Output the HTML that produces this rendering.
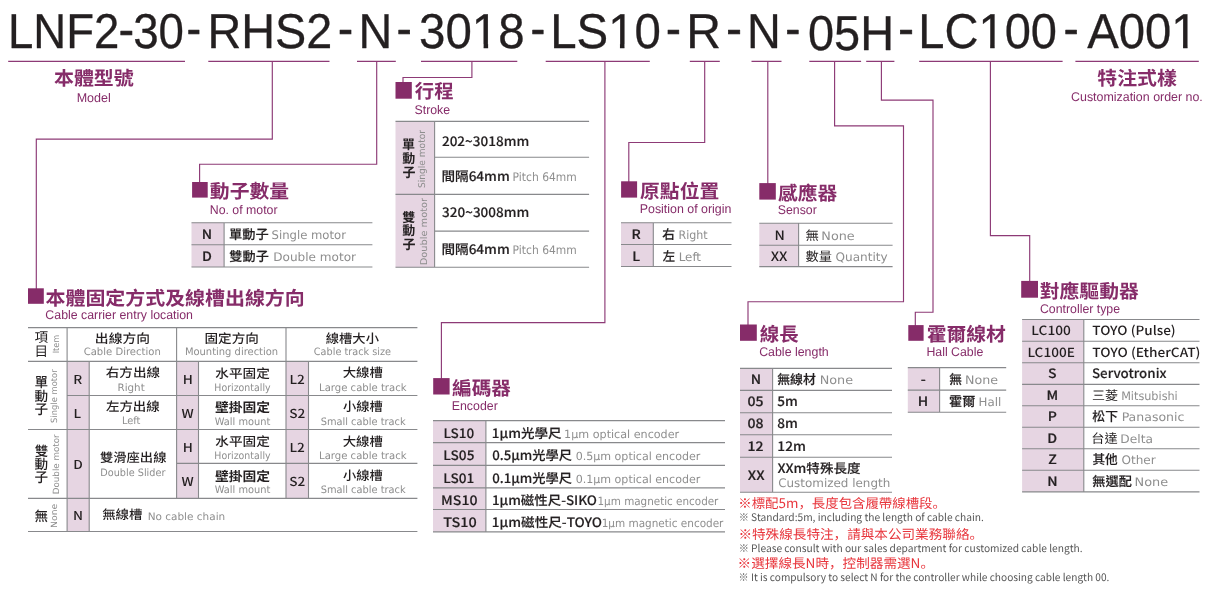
<!DOCTYPE html>
<html lang="zh-Hant">
<head>
<meta charset="utf-8">
<title>LNF2-30 Ordering Code</title>
<style>
html,body{margin:0;padding:0;background:#fff;}
body{width:1212px;height:595px;overflow:hidden;}
svg{display:block;will-change:transform;}
text{white-space:pre;text-rendering:geometricPrecision;}
.tt{font-family:"Liberation Sans", sans-serif;font-size:49px;font-weight:400;fill:#231f20;stroke:#231f20;stroke-width:0.3;stroke-linejoin:round;}
.td{font-family:"Liberation Sans", sans-serif;font-size:49px;font-weight:400;fill:#231f20;stroke:#231f20;stroke-width:0.7;stroke-linejoin:round;}
.hd{font-family:"Noto Sans CJK TC", "Liberation Sans", sans-serif;font-size:19px;font-weight:700;fill:#862c69;}
.sb{font-family:"Liberation Sans", sans-serif;font-size:12.6px;font-weight:400;fill:#862c69;}
.cd{font-family:"Noto Sans CJK TC", "Liberation Sans", sans-serif;font-size:12.8px;font-weight:500;fill:#231f20;stroke:#231f20;stroke-width:0.2;stroke-linejoin:round;}
.cdl{font-family:"Noto Sans CJK TC", "Liberation Sans", sans-serif;font-size:12.8px;font-weight:500;fill:#231f20;}
.cd2{font-family:"Noto Sans CJK TC", "Liberation Sans", sans-serif;font-size:12.4px;font-weight:500;fill:#231f20;}
.cr{font-family:"Noto Sans CJK TC", "Liberation Sans", sans-serif;font-size:12.7px;font-weight:500;fill:#231f20;}
.crl{font-family:"Noto Sans CJK TC", "Liberation Sans", sans-serif;font-size:12.7px;font-weight:400;fill:#231f20;}
.zh{font-family:"Noto Sans CJK TC", "Liberation Sans", sans-serif;font-size:13px;font-weight:500;fill:#231f20;stroke:#231f20;stroke-width:0.15;stroke-linejoin:round;}
.zv{font-family:"Noto Sans CJK TC", "Liberation Sans", sans-serif;font-size:13px;font-weight:700;fill:#231f20;}
.zvm{font-family:"Noto Sans CJK TC", "Liberation Sans", sans-serif;font-size:13.6px;font-weight:500;fill:#231f20;}
.zvh{font-family:"Noto Sans CJK TC", "Liberation Sans", sans-serif;font-size:13.6px;font-weight:400;fill:#231f20;}
.z2{font-family:"Noto Sans CJK TC", "Liberation Sans", sans-serif;font-size:12.6px;font-weight:500;fill:#231f20;}
.z2b{font-family:"Noto Sans CJK TC", "Liberation Sans", sans-serif;font-size:13px;font-weight:700;fill:#231f20;}
.en{font-family:"DejaVu Sans", "Liberation Sans", sans-serif;font-size:11.8px;font-weight:400;fill:#8e8e8e;}
.en2{font-family:"DejaVu Sans", "Liberation Sans", sans-serif;font-size:11.2px;font-weight:400;fill:#8e8e8e;}
.e2{font-family:"DejaVu Sans", "Liberation Sans", sans-serif;font-size:10.2px;font-weight:400;fill:#8e8e8e;}
.rt{font-family:"DejaVu Sans", "Liberation Sans", sans-serif;font-size:9.4px;font-weight:400;fill:#8e8e8e;}
.rt2{font-family:"DejaVu Sans", "Liberation Sans", sans-serif;font-size:8.6px;font-weight:400;fill:#8e8e8e;}
.nr{font-family:"Noto Sans CJK SC", "Noto Sans CJK TC", "Liberation Sans", sans-serif;font-size:13.2px;font-weight:400;fill:#e8353c;}
.ng{font-family:"Noto Sans CJK SC", "Noto Sans CJK TC", "Liberation Sans", sans-serif;font-size:10.4px;font-weight:400;fill:#555555;}
.ul{stroke:#8d3a76;stroke-width:1.15;fill:none;}
.cn{stroke:#8d3a76;stroke-width:1.15;fill:none;stroke-linejoin:miter;}
.sq{fill:#862c69;}
.pk{fill:#e6d5e2;}
.gl{stroke:#88898c;stroke-width:1.1;fill:none;}
</style>
</head>
<body>
<svg width="1212" height="595" viewBox="0 0 1212 595">
<rect width="1212" height="595" fill="#ffffff"/>
<g class="pk">
<rect x="191.5" y="222.7" width="32.6" height="44.3"/>
<rect x="621" y="222.7" width="32.3" height="43.8"/>
<rect x="759.3" y="223.3" width="39.3" height="43.3"/>
<rect x="740" y="368.4" width="32.6" height="123.9"/>
<rect x="907.8" y="367.6" width="31.8" height="44.6"/>
<rect x="1022.1" y="319.5" width="61.7" height="172.4"/>
<rect x="433" y="420.6" width="52.9" height="111.3"/>
<rect x="395.5" y="121.4" width="39.1" height="145.8"/>
<rect x="67.1" y="361.4" width="22.1" height="170.1"/>
<rect x="176.6" y="361.4" width="21.9" height="137"/>
<rect x="286" y="361.4" width="22.5" height="137"/>
</g>
<g class="gl">
<path d="M191.5 222.7H372.4M191.5 244.7H372.4M191.5 267H372.4M224.1 222.7V267"/>
<path d="M621 222.7H731.5M621 244.5H731.5M621 266.5H731.5M653.3 222.7V266.5"/>
<path d="M759.3 223.3H892.6M759.3 245.3H892.6M759.3 266.6H892.6M798.6 223.3V266.6"/>
<path d="M740 368.4H892M740 390.4H892M740 412.7H892M740 434.7H892M740 457.2H892M740 492.3H892M772.6 368.4V492.3"/>
<path d="M907.8 367.6H1006.2M907.8 390.1H1006.2M907.8 412.2H1006.2M939.6 367.6V412.2"/>
<path d="M1022.1 319.5H1199.5M1022.1 341.2H1199.5M1022.1 362.8H1199.5M1022.1 384.4H1199.5M1022.1 405.8H1199.5M1022.1 427.3H1199.5M1022.1 448.8H1199.5M1022.1 470.3H1199.5M1022.1 491.9H1199.5M1083.8 319.5V491.9"/>
<path d="M433 420.6H725M433 442.6H725M433 465.4H725M433 487.9H725M433 509.5H725M433 531.9H725M485.9 420.6V531.9"/>
<path d="M395.5 121.4H589.1M434.6 157.2H589.1M395.5 194.4H589.1M434.6 231.1H589.1M395.5 267.2H589.1M434.6 121.4V267.2"/>
<path d="M28 327.6H417.4M28 361.4H417.4M67.1 395.5H417.4M28 429.5H417.4M176.6 463.4H417.4M28 498.4H417.4M28 531.5H417.4M67.1 327.6V531.5M89.2 361.4V531.5M176.6 327.6V498.4M198.5 361.4V498.4M286 327.6V498.4M308.5 361.4V498.4"/>
</g>
<g class="ul">
<path d="M8.2 61.3H185M208.3 61.3H329.5M357 61.3H395.8M421 61.3H517.3M545.7 61.3H649.8M689.8 61.3H719.8M751.5 61.3H781.5M809.3 61.3H861.1M866.2 61.3H894.4M919.2 61.3H1062.6M1075.4 61.3H1198.8"/>
</g>
<g class="cn">
<polyline points="272.3,61.3 272.3,139.1 36.3,139.1 36.3,289"/>
<polyline points="376.7,61.3 376.7,164.2 199.6,164.2 199.6,183"/>
<polyline points="471.9,61.3 471.9,77.5 403,77.5 403,83"/>
<polyline points="604.9,61.3 604.9,322.6 441.4,322.6 441.4,379"/>
<polyline points="704.7,61.3 704.7,142.5 628.8,142.5 628.8,182"/>
<polyline points="767.8,61.3 767.8,184"/>
<polyline points="834.6,61.3 834.6,125.9 903.5,125.9 903.5,301.7 748,301.7 748,325"/>
<polyline points="881.4,61.3 881.4,100.1 933,100.1 933,312.2 915.3,312.2 915.3,326"/>
<polyline points="990.4,61.3 990.4,235.6 1029.7,235.6 1029.7,282"/>
</g>
<g class="sq">
<rect x="395.5" y="82" width="16.3" height="16.7"/>
<rect x="192.1" y="182" width="15.6" height="15.6"/>
<rect x="28" y="288.3" width="15.8" height="15.5"/>
<rect x="433.2" y="378.1" width="16.4" height="16.4"/>
<rect x="621.1" y="181.3" width="16" height="16.3"/>
<rect x="759.3" y="183.1" width="16.5" height="16.5"/>
<rect x="740" y="324.5" width="16.8" height="16.3"/>
<rect x="908.3" y="325.1" width="15.3" height="15.7"/>
<rect x="1021.2" y="280.9" width="16.8" height="16.8"/>
</g>
<defs>
<clipPath id="k_t8" clipPathUnits="userSpaceOnUse"><path clip-rule="evenodd" d="M411.1 -1h121.48v63.7h-121.48zM470.84 43.99H483.62V51H470.84zM488.11 43.99H499.22V51H488.11z"/></clipPath>
<clipPath id="k_t10" clipPathUnits="userSpaceOnUse"><path clip-rule="evenodd" d="M542.21 -1h126.72v63.7h-126.72zM607.19 43.99H619.96V51H607.19zM624.46 43.99H635.57V51H624.46z"/></clipPath>
<clipPath id="k_t18" clipPathUnits="userSpaceOnUse"><path clip-rule="evenodd" d="M910.37 -1h154.63v63.7h-154.63zM977.49 43.99H990.18V51H977.49zM994.64 43.99H1005.67V51H994.64z"/></clipPath>
<clipPath id="k_t20" clipPathUnits="userSpaceOnUse"><path clip-rule="evenodd" d="M1079.24 -1h126.37v63.7h-126.37zM1170.33 43.99H1183.07V51H1170.33zM1187.55 43.99H1198.62V51H1187.55z"/></clipPath>
</defs>
<g id="txt">
<text id="t0" class="tt" x="7.88" y="48" textLength="111.45" lengthAdjust="spacingAndGlyphs">LNF2</text>
<text id="t1" class="td" x="118.81" y="46" textLength="15.25" lengthAdjust="spacingAndGlyphs">-</text>
<text id="t2" class="tt" x="133.26" y="48" textLength="50.71" lengthAdjust="spacingAndGlyphs">30</text>
<text id="t3" class="td" x="186.73" y="45" textLength="14.23" lengthAdjust="spacingAndGlyphs">-</text>
<text id="t4" class="tt" x="207.54" y="48" textLength="124.78" lengthAdjust="spacingAndGlyphs">RHS2</text>
<text id="t5" class="td" x="338.1" y="45" textLength="15.04" lengthAdjust="spacingAndGlyphs">-</text>
<text id="t6" class="tt" x="358.45" y="48" textLength="33.78" lengthAdjust="spacingAndGlyphs">N</text>
<text id="t7" class="td" x="396.71" y="45" textLength="14.92" lengthAdjust="spacingAndGlyphs">-</text>
<text id="t8" class="tt" x="419.1" y="48" clip-path="url(#k_t8)" textLength="105.48" lengthAdjust="spacingAndGlyphs">3018</text>
<text id="t9" class="td" x="530.72" y="45" textLength="14.36" lengthAdjust="spacingAndGlyphs">-</text>
<text id="t10" class="tt" x="550.21" y="48" clip-path="url(#k_t10)" textLength="110.72" lengthAdjust="spacingAndGlyphs">LS10</text>
<text id="t11" class="td" x="666.09" y="45" textLength="14.81" lengthAdjust="spacingAndGlyphs">-</text>
<text id="t12" class="tt" x="686.24" y="48" textLength="34.76" lengthAdjust="spacingAndGlyphs">R</text>
<text id="t13" class="td" x="726.14" y="45" textLength="15.65" lengthAdjust="spacingAndGlyphs">-</text>
<text id="t14" class="tt" x="747.05" y="48" textLength="33.85" lengthAdjust="spacingAndGlyphs">N</text>
<text id="t15" class="td" x="785.38" y="45" textLength="14.73" lengthAdjust="spacingAndGlyphs">-</text>
<text id="t16" class="tt" x="808.02" y="50" textLength="86.02" lengthAdjust="spacingAndGlyphs">05H</text>
<text id="t17" class="td" x="898.14" y="45" textLength="15.65" lengthAdjust="spacingAndGlyphs">-</text>
<text id="t18" class="tt" x="918.37" y="48" clip-path="url(#k_t18)" textLength="138.63" lengthAdjust="spacingAndGlyphs">LC100</text>
<text id="t19" class="td" x="1063.85" y="45" textLength="14.77" lengthAdjust="spacingAndGlyphs">-</text>
<text id="t20" class="tt" x="1087.24" y="48" clip-path="url(#k_t20)" textLength="110.37" lengthAdjust="spacingAndGlyphs">A001</text>
<text id="h_model" class="hd" x="53.99" y="85" textLength="79.77" lengthAdjust="spacingAndGlyphs">本體型號</text>
<text id="h_cust" class="hd" x="1097.35" y="85" textLength="79.49" lengthAdjust="spacingAndGlyphs">特注式樣</text>
<text id="h_stroke" class="hd" x="414.79" y="98" textLength="38.81" lengthAdjust="spacingAndGlyphs">行程</text>
<text id="h_motor" class="hd" x="209.89" y="198" textLength="79.23" lengthAdjust="spacingAndGlyphs">動子數量</text>
<text id="h_cable" class="hd" x="45.55" y="305" textLength="259.2" lengthAdjust="spacingAndGlyphs">本體固定方式及線槽出線方向</text>
<text id="h_enc" class="hd" x="452.09" y="395" textLength="58.74" lengthAdjust="spacingAndGlyphs">編碼器</text>
<text id="h_org" class="hd" x="640.11" y="198" textLength="79.07" lengthAdjust="spacingAndGlyphs">原點位置</text>
<text id="h_sens" class="hd" x="778.07" y="200" textLength="59.2" lengthAdjust="spacingAndGlyphs">感應器</text>
<text id="h_len" class="hd" x="759.77" y="341" textLength="38.85" lengthAdjust="spacingAndGlyphs">線長</text>
<text id="h_hall" class="hd" x="926.71" y="341" textLength="79.17" lengthAdjust="spacingAndGlyphs">霍爾線材</text>
<text id="h_ctrl" class="hd" x="1039.84" y="298" textLength="98.87" lengthAdjust="spacingAndGlyphs">對應驅動器</text>
<text id="s_model" class="sb" x="76.7" y="102" textLength="34.13" lengthAdjust="spacingAndGlyphs">Model</text>
<text id="s_cust" class="sb" x="1071.03" y="101" textLength="131.81" lengthAdjust="spacingAndGlyphs">Customization order no.</text>
<text id="s_stroke" class="sb" x="414.51" y="114" textLength="35.63" lengthAdjust="spacingAndGlyphs">Stroke</text>
<text id="s_motor" class="sb" x="209.76" y="214" textLength="67.83" lengthAdjust="spacingAndGlyphs">No. of motor</text>
<text id="s_cable" class="sb" x="45.36" y="319" textLength="147.61" lengthAdjust="spacingAndGlyphs">Cable carrier entry location</text>
<text id="s_enc" class="sb" x="451.77" y="410" textLength="46" lengthAdjust="spacingAndGlyphs">Encoder</text>
<text id="s_org" class="sb" x="639.74" y="213" textLength="91.63" lengthAdjust="spacingAndGlyphs">Position of origin</text>
<text id="s_sens" class="sb" x="777.83" y="214" textLength="38.97" lengthAdjust="spacingAndGlyphs">Sensor</text>
<text id="s_len" class="sb" x="759.13" y="356" textLength="69.63" lengthAdjust="spacingAndGlyphs">Cable length</text>
<text id="s_hall" class="sb" x="926.41" y="356" textLength="56.94" lengthAdjust="spacingAndGlyphs">Hall Cable</text>
<text id="s_ctrl" class="sb" x="1039.95" y="313" textLength="80.15" lengthAdjust="spacingAndGlyphs">Controller type</text>
<text id="m_n" class="cd" x="201.84" y="239" textLength="10.35" lengthAdjust="spacingAndGlyphs">N</text>
<text id="m_d" class="cd" x="201.95" y="261" textLength="9.85" lengthAdjust="spacingAndGlyphs">D</text>
<text id="m_z1" class="zh" x="229.12" y="239" textLength="39.71" lengthAdjust="spacingAndGlyphs">單動子</text>
<text id="m_e1" class="en" x="271.5" y="239" textLength="74.44" lengthAdjust="spacingAndGlyphs">Single motor</text>
<text id="m_z2" class="zh" x="229.38" y="261" textLength="39.42" lengthAdjust="spacingAndGlyphs">雙動子</text>
<text id="m_e2" class="en" x="273.28" y="261" textLength="82.83" lengthAdjust="spacingAndGlyphs">Double motor</text>
<text id="st_1" class="zh" x="441.95" y="146" textLength="87.28" lengthAdjust="spacingAndGlyphs">202~3018mm</text>
<text id="st_2" class="zh" x="441.47" y="181" textLength="68.25" lengthAdjust="spacingAndGlyphs">間隔64mm</text>
<text id="st_2e" class="en" x="512.6" y="181" textLength="64.11" lengthAdjust="spacingAndGlyphs">Pitch 64mm</text>
<text id="st_3" class="zh" x="442.05" y="217" textLength="87.18" lengthAdjust="spacingAndGlyphs">320~3008mm</text>
<text id="st_4" class="zh" x="441.47" y="254" textLength="68.25" lengthAdjust="spacingAndGlyphs">間隔64mm</text>
<text id="st_4e" class="en" x="512.6" y="254" textLength="64.11" lengthAdjust="spacingAndGlyphs">Pitch 64mm</text>
<text id="sv1_0" class="zv" x="402.11" y="149">單</text>
<text id="sv1_1" class="zv" x="402.21" y="163">動</text>
<text id="sv1_2" class="zv" x="402.38" y="177">子</text>
<text id="sv2_0" class="zv" x="402.34" y="222">雙</text>
<text id="sv2_1" class="zv" x="402.21" y="235">動</text>
<text id="sv2_2" class="zv" x="402.38" y="249">子</text>
<text id="sr1" class="rt" transform="translate(424.6 187.93) rotate(-90)" x="0" y="0" textLength="57.91" lengthAdjust="spacingAndGlyphs">Single motor</text>
<text id="sr2" class="rt" transform="translate(426.55 265.3) rotate(-90)" x="0" y="0" textLength="67.36" lengthAdjust="spacingAndGlyphs">Double motor</text>
<text id="o_r" class="cd" x="631.48" y="239" textLength="9.25" lengthAdjust="spacingAndGlyphs">R</text>
<text id="o_l" class="cd" x="632.29" y="261" textLength="7.87" lengthAdjust="spacingAndGlyphs">L</text>
<text id="o_z1" class="zh" x="662.33" y="239" textLength="12.75" lengthAdjust="spacingAndGlyphs">右</text>
<text id="o_e1" class="en" x="678.5" y="239" textLength="29.19" lengthAdjust="spacingAndGlyphs">Right</text>
<text id="o_z2" class="zh" x="662.75" y="261" textLength="12.35" lengthAdjust="spacingAndGlyphs">左</text>
<text id="o_e2" class="en" x="678.72" y="261" textLength="22.29" lengthAdjust="spacingAndGlyphs">Left</text>
<text id="se_n" class="cdl" x="774.47" y="240" textLength="10.35" lengthAdjust="spacingAndGlyphs">N</text>
<text id="se_x" class="cdl" x="770.73" y="261" textLength="16.79" lengthAdjust="spacingAndGlyphs">XX</text>
<text id="se_z1" class="crl" x="805.64" y="240" textLength="13.46" lengthAdjust="spacingAndGlyphs">無</text>
<text id="se_e1" class="en" x="821.38" y="240" textLength="33.35" lengthAdjust="spacingAndGlyphs">None</text>
<text id="se_z2" class="crl" x="805.59" y="261" textLength="26.47" lengthAdjust="spacingAndGlyphs">數量</text>
<text id="se_e2" class="en" x="835.52" y="261" textLength="52.24" lengthAdjust="spacingAndGlyphs">Quantity</text>
<text id="l_n" class="cd" x="750.82" y="384" textLength="10.35" lengthAdjust="spacingAndGlyphs">N</text>
<text id="l_05" class="cd" x="747.57" y="406" textLength="16.05" lengthAdjust="spacingAndGlyphs">05</text>
<text id="l_08" class="cd" x="747.5" y="428" textLength="16.05" lengthAdjust="spacingAndGlyphs">08</text>
<text id="l_12" class="cd" x="747.6" y="451" textLength="16.05" lengthAdjust="spacingAndGlyphs">12</text>
<text id="l_xx" class="cd" x="747.88" y="480" textLength="16.79" lengthAdjust="spacingAndGlyphs">XX</text>
<text id="l_z1" class="zh" x="777.2" y="384" textLength="38.73" lengthAdjust="spacingAndGlyphs">無線材</text>
<text id="l_e1" class="en" x="819.69" y="384" textLength="33.36" lengthAdjust="spacingAndGlyphs">None</text>
<text id="l_z2" class="zh" x="777.32" y="406" textLength="20.54" lengthAdjust="spacingAndGlyphs">5m</text>
<text id="l_z3" class="zh" x="777.19" y="428" textLength="20.62" lengthAdjust="spacingAndGlyphs">8m</text>
<text id="l_z4" class="zh" x="777.35" y="451" textLength="28.55" lengthAdjust="spacingAndGlyphs">12m</text>
<text id="l_z5" class="zh" x="777.41" y="473" textLength="83.14" lengthAdjust="spacingAndGlyphs">XXm特殊長度</text>
<text id="l_e5" class="en" x="778.19" y="487" textLength="112.03" lengthAdjust="spacingAndGlyphs">Customized length</text>
<text id="ha_1" class="cd" x="920.73" y="384" textLength="5.04" lengthAdjust="spacingAndGlyphs">-</text>
<text id="ha_2" class="cd" x="917.68" y="406" textLength="10.43" lengthAdjust="spacingAndGlyphs">H</text>
<text id="ha_z1" class="zh" x="949.23" y="384" textLength="12.75" lengthAdjust="spacingAndGlyphs">無</text>
<text id="ha_e1" class="en" x="965.01" y="384" textLength="33.08" lengthAdjust="spacingAndGlyphs">None</text>
<text id="ha_z2" class="zh" x="948.99" y="406" textLength="26.33" lengthAdjust="spacingAndGlyphs">霍爾</text>
<text id="ha_e2" class="en" x="978.57" y="406" textLength="22.71" lengthAdjust="spacingAndGlyphs">Hall</text>
<text id="c_c0" class="cr" x="1031.38" y="335" textLength="39.42" lengthAdjust="spacingAndGlyphs">LC100</text>
<text id="c_c1" class="cr" x="1027.48" y="357" textLength="47.34" lengthAdjust="spacingAndGlyphs">LC100E</text>
<text id="c_c2" class="cd" x="1048.11" y="378" textLength="8.56" lengthAdjust="spacingAndGlyphs">S</text>
<text id="c_c3" class="cd" x="1046.62" y="400" textLength="11.69" lengthAdjust="spacingAndGlyphs">M</text>
<text id="c_c4" class="cd" x="1047.87" y="421" textLength="9.13" lengthAdjust="spacingAndGlyphs">P</text>
<text id="c_c5" class="cd" x="1047.32" y="443" textLength="9.85" lengthAdjust="spacingAndGlyphs">D</text>
<text id="c_c6" class="cd" x="1048.37" y="464" textLength="8.56" lengthAdjust="spacingAndGlyphs">Z</text>
<text id="c_c7" class="cd" x="1047.37" y="486" textLength="10.35" lengthAdjust="spacingAndGlyphs">N</text>
<text id="c_z0" class="cr" x="1092.29" y="335" textLength="83.4" lengthAdjust="spacingAndGlyphs">TOYO (Pulse)</text>
<text id="c_z1" class="cr" x="1092.26" y="357" textLength="108.23" lengthAdjust="spacingAndGlyphs">TOYO (EtherCAT)</text>
<text id="c_z2" class="zh" x="1091.94" y="378" textLength="74.64" lengthAdjust="spacingAndGlyphs">Servotronix</text>
<text id="c_z3" class="crl" x="1091.99" y="400" textLength="26.08" lengthAdjust="spacingAndGlyphs">三菱</text>
<text id="c_e3" class="en" x="1121.17" y="400" textLength="56.58" lengthAdjust="spacingAndGlyphs">Mitsubishi</text>
<text id="c_z4" class="zh" x="1092.37" y="421" textLength="25.57" lengthAdjust="spacingAndGlyphs">松下</text>
<text id="c_e4" class="en" x="1121.65" y="421" textLength="62.7" lengthAdjust="spacingAndGlyphs">Panasonic</text>
<text id="c_z5" class="crl" x="1091.36" y="443" textLength="26.34" lengthAdjust="spacingAndGlyphs">台達</text>
<text id="c_e5" class="en" x="1120.39" y="443" textLength="32.64" lengthAdjust="spacingAndGlyphs">Delta</text>
<text id="c_z6" class="zh" x="1092.47" y="464" textLength="25.25" lengthAdjust="spacingAndGlyphs">其他</text>
<text id="c_e6" class="en" x="1121.51" y="464" textLength="34.24" lengthAdjust="spacingAndGlyphs">Other</text>
<text id="c_z7" class="zh" x="1092.39" y="486" textLength="39.49" lengthAdjust="spacingAndGlyphs">無選配</text>
<text id="c_e7" class="en" x="1134.51" y="486" textLength="33.6" lengthAdjust="spacingAndGlyphs">None</text>
<text id="e_c0" class="zh" x="443.4" y="438" textLength="30.83" lengthAdjust="spacingAndGlyphs">LS10</text>
<text id="e_c1" class="zh" x="443.32" y="460" textLength="31.12" lengthAdjust="spacingAndGlyphs">LS05</text>
<text id="e_c2" class="zh" x="443.3" y="483" textLength="30.97" lengthAdjust="spacingAndGlyphs">LS01</text>
<text id="e_c3" class="zh" x="441.08" y="505" textLength="36.39" lengthAdjust="spacingAndGlyphs">MS10</text>
<text id="e_c4" class="zh" x="443.32" y="527" textLength="33.49" lengthAdjust="spacingAndGlyphs">TS10</text>
<text id="e_z0" class="zh" x="491.89" y="438" textLength="69.77" lengthAdjust="spacingAndGlyphs">1µm光學尺</text>
<text id="e_e0" class="en2" x="564.11" y="438" textLength="115.04" lengthAdjust="spacingAndGlyphs">1µm optical encoder</text>
<text id="e_z1" class="zh" x="492.17" y="460" textLength="79.81" lengthAdjust="spacingAndGlyphs">0.5µm光學尺</text>
<text id="e_e1" class="en2" x="575.67" y="460" textLength="124.67" lengthAdjust="spacingAndGlyphs">0.5µm optical encoder</text>
<text id="e_z2" class="zh" x="492.17" y="483" textLength="79.81" lengthAdjust="spacingAndGlyphs">0.1µm光學尺</text>
<text id="e_e2" class="en2" x="575.67" y="483" textLength="124.67" lengthAdjust="spacingAndGlyphs">0.1µm optical encoder</text>
<text id="e_z3" class="zh" x="491.9" y="505" textLength="105.07" lengthAdjust="spacingAndGlyphs">1µm磁性尺-SIKO</text>
<text id="e_e3" class="en2" x="597.53" y="505" textLength="120.88" lengthAdjust="spacingAndGlyphs">1µm magnetic encoder</text>
<text id="e_z4" class="zh" x="491.87" y="527" textLength="110.14" lengthAdjust="spacingAndGlyphs">1µm磁性尺-TOYO</text>
<text id="e_e4" class="en2" x="601.69" y="527" textLength="121.72" lengthAdjust="spacingAndGlyphs">1µm magnetic encoder</text>
<text id="bh_0" class="zvh" x="34.48" y="342">項</text>
<text id="bh_1" class="zvh" x="34.56" y="356">目</text>
<text id="bh_r" class="rt2" transform="translate(59.2 353.34) rotate(-90)" x="0" y="0" textLength="18.56" lengthAdjust="spacingAndGlyphs">Item</text>
<text id="b_h1" class="z2" x="94.89" y="343" textLength="55.06" lengthAdjust="spacingAndGlyphs">出線方向</text>
<text id="b_h1e" class="e2" x="83.68" y="355" textLength="77.15" lengthAdjust="spacingAndGlyphs">Cable Direction</text>
<text id="b_h2" class="z2" x="204.49" y="343" textLength="54.36" lengthAdjust="spacingAndGlyphs">固定方向</text>
<text id="b_h2e" class="e2" x="184.88" y="355" textLength="93.3" lengthAdjust="spacingAndGlyphs">Mounting direction</text>
<text id="b_h3" class="z2" x="325.83" y="343" textLength="53.07" lengthAdjust="spacingAndGlyphs">線槽大小</text>
<text id="b_h3e" class="e2" x="313.85" y="355" textLength="77.21" lengthAdjust="spacingAndGlyphs">Cable track size</text>
<text id="b_c2_0" class="cd2" x="182.78" y="384" textLength="10.11" lengthAdjust="spacingAndGlyphs">H</text>
<text id="b_z2_0" class="z2" x="215.29" y="378" textLength="54.51" lengthAdjust="spacingAndGlyphs">水平固定</text>
<text id="b_e2_0" class="e2" x="214.35" y="391" textLength="56.23" lengthAdjust="spacingAndGlyphs">Horizontally</text>
<text id="b_c3_0" class="cd2" x="289.52" y="384" textLength="15.38" lengthAdjust="spacingAndGlyphs">L2</text>
<text id="b_z3_0" class="z2" x="342.67" y="377" textLength="40.2" lengthAdjust="spacingAndGlyphs">大線槽</text>
<text id="b_e3_0" class="e2" x="319.06" y="391" textLength="87.53" lengthAdjust="spacingAndGlyphs">Large cable track</text>
<text id="b_c2_1" class="cd2" x="181.51" y="418" textLength="12.19" lengthAdjust="spacingAndGlyphs">W</text>
<text id="b_z2_1" class="z2b" x="215.12" y="412" textLength="55.02" lengthAdjust="spacingAndGlyphs">壁掛固定</text>
<text id="b_e2_1" class="e2" x="214.65" y="425" textLength="55.74" lengthAdjust="spacingAndGlyphs">Wall mount</text>
<text id="b_c3_1" class="cd2" x="289.22" y="418" textLength="16.07" lengthAdjust="spacingAndGlyphs">S2</text>
<text id="b_z3_1" class="z2" x="342.93" y="411" textLength="39.81" lengthAdjust="spacingAndGlyphs">小線槽</text>
<text id="b_e3_1" class="e2" x="320.66" y="425" textLength="84.98" lengthAdjust="spacingAndGlyphs">Small cable track</text>
<text id="b_c2_2" class="cd2" x="182.78" y="452" textLength="10.11" lengthAdjust="spacingAndGlyphs">H</text>
<text id="b_z2_2" class="z2" x="215.29" y="446" textLength="54.51" lengthAdjust="spacingAndGlyphs">水平固定</text>
<text id="b_e2_2" class="e2" x="214.35" y="459" textLength="56.23" lengthAdjust="spacingAndGlyphs">Horizontally</text>
<text id="b_c3_2" class="cd2" x="289.52" y="452" textLength="15.38" lengthAdjust="spacingAndGlyphs">L2</text>
<text id="b_z3_2" class="z2" x="342.67" y="446" textLength="40.2" lengthAdjust="spacingAndGlyphs">大線槽</text>
<text id="b_e3_2" class="e2" x="319.06" y="459" textLength="87.53" lengthAdjust="spacingAndGlyphs">Large cable track</text>
<text id="b_c2_3" class="cd2" x="181.51" y="486" textLength="12.19" lengthAdjust="spacingAndGlyphs">W</text>
<text id="b_z2_3" class="z2b" x="215.12" y="481" textLength="55.02" lengthAdjust="spacingAndGlyphs">壁掛固定</text>
<text id="b_e2_3" class="e2" x="214.65" y="493" textLength="55.74" lengthAdjust="spacingAndGlyphs">Wall mount</text>
<text id="b_c3_3" class="cd2" x="289.22" y="486" textLength="16.07" lengthAdjust="spacingAndGlyphs">S2</text>
<text id="b_z3_3" class="z2" x="342.93" y="480" textLength="39.81" lengthAdjust="spacingAndGlyphs">小線槽</text>
<text id="b_e3_3" class="e2" x="320.66" y="493" textLength="84.98" lengthAdjust="spacingAndGlyphs">Small cable track</text>
<text id="b_c1_0" class="cd2" x="73.15" y="384" textLength="8.95" lengthAdjust="spacingAndGlyphs">R</text>
<text id="b_c1_1" class="cd2" x="73.62" y="418" textLength="7.61" lengthAdjust="spacingAndGlyphs">L</text>
<text id="b_z1_0" class="z2" x="105.84" y="377" textLength="54.18" lengthAdjust="spacingAndGlyphs">右方出線</text>
<text id="b_e1_0" class="e2" x="117.56" y="391" textLength="27.16" lengthAdjust="spacingAndGlyphs">Right</text>
<text id="b_z1_1" class="z2" x="106.01" y="411" textLength="53.72" lengthAdjust="spacingAndGlyphs">左方出線</text>
<text id="b_e1_1" class="e2" x="121.96" y="424" textLength="18.38" lengthAdjust="spacingAndGlyphs">Left</text>
<text id="b_c1_2" class="cd2" x="73.38" y="469" textLength="9.54" lengthAdjust="spacingAndGlyphs">D</text>
<text id="b_z1_2" class="z2" x="100" y="462" textLength="66.41" lengthAdjust="spacingAndGlyphs">雙滑座出線</text>
<text id="b_e1_2" class="e2" x="100.3" y="476" textLength="65.07" lengthAdjust="spacingAndGlyphs">Double Slider</text>
<text id="b_c1_3" class="cd2" x="73" y="520" textLength="10.02" lengthAdjust="spacingAndGlyphs">N</text>
<text id="b_z1_3" class="z2" x="102.2" y="519" textLength="40.27" lengthAdjust="spacingAndGlyphs">無線槽</text>
<text id="b_e1_3" class="e2" x="147.65" y="520" textLength="77.56" lengthAdjust="spacingAndGlyphs">No cable chain</text>
<text id="bv1_0" class="zvm" x="34.44" y="387">單</text>
<text id="bv1_1" class="zvm" x="34.42" y="401">動</text>
<text id="bv1_2" class="zvm" x="34.44" y="414">子</text>
<text id="bv1_r" class="rt2" transform="translate(56.8 422.95) rotate(-90)" x="0" y="0" textLength="53.57" lengthAdjust="spacingAndGlyphs">Single motor</text>
<text id="bv2_0" class="zvm" x="34.68" y="456">雙</text>
<text id="bv2_1" class="zvm" x="34.42" y="469">動</text>
<text id="bv2_2" class="zvm" x="34.44" y="482">子</text>
<text id="bv2_r" class="rt2" transform="translate(58.54 494.2) rotate(-90)" x="0" y="0" textLength="59.78" lengthAdjust="spacingAndGlyphs">Double motor</text>
<text id="bv3_0" class="zvm" x="34.61" y="521">無</text>
<text id="bv3_r" class="rt2" transform="translate(57.33 527.89) rotate(-90)" x="0" y="0" textLength="24.12" lengthAdjust="spacingAndGlyphs">None</text>
<text id="n1" class="nr" lang="zh-Hans" x="738.31" y="508" textLength="207.62" lengthAdjust="spacingAndGlyphs">※標配5m，長度包含履帶線槽段。</text>
<text id="n2" class="ng" x="738.63" y="521" textLength="245.23" lengthAdjust="spacingAndGlyphs">※ Standard:5m, including the length of cable chain.</text>
<text id="n3" class="nr" lang="zh-Hans" x="738.45" y="539" textLength="244.62" lengthAdjust="spacingAndGlyphs">※特殊線長特注，請與本公司業務聯絡。</text>
<text id="n4" class="ng" x="738.63" y="552" textLength="343.94" lengthAdjust="spacingAndGlyphs">※ Please consult with our sales department for customized cable length.</text>
<text id="n5" class="nr" lang="zh-Hans" x="737.61" y="568" textLength="196.43" lengthAdjust="spacingAndGlyphs">※選擇線長N時，控制器需選N。</text>
<text id="n6" class="ng" x="738.62" y="581" textLength="370.82" lengthAdjust="spacingAndGlyphs">※ It is compulsory to select N for the controller while choosing cable length 00.</text>
</g>
</svg>
</body>
</html>
